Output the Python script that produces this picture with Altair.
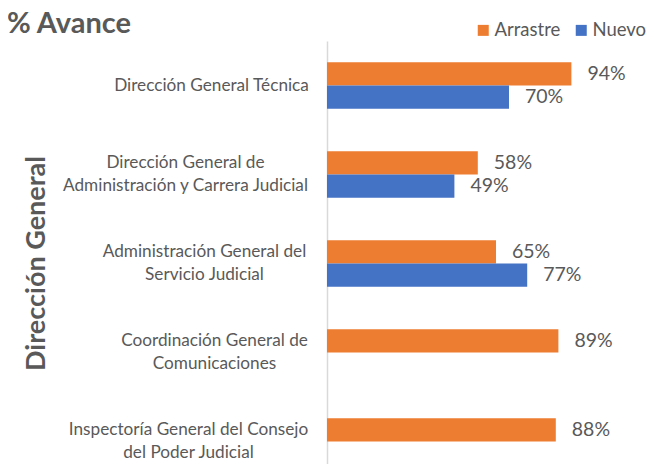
import altair as alt
import pandas as pd

categories = [
    "Dirección General Técnica",
    "Dirección General de\nAdministración y Carrera Judicial",
    "Administración General del\nServicio Judicial",
    "Coordinación General de\nComunicaciones",
    "Inspectoría General del Consejo\ndel Poder Judicial",
]
series = ["Arrastre", "Nuevo"]
arrastre = [0.94, 0.58, 0.65, 0.89, 0.88]
nuevo = [0.70, 0.49, 0.77, None, None]
colors = ["#ED7D31", "#4472C4"]

rows = []
for c, a, n in zip(categories, arrastre, nuevo):
    rows.append({"cat": c, "serie": "Arrastre", "val": a})
    if n is not None:
        rows.append({"cat": c, "serie": "Nuevo", "val": n})
df = pd.DataFrame(rows)

FONT = "Lato"
GRAY = "#595959"
LEFT = 319

pad_cond = [
    {"test": "indexof(datum.value, 'Carrera') >= 0", "value": 142},
    {"test": "indexof(datum.value, 'Servicio') >= 0", "value": 123},
    {"test": "indexof(datum.value, 'Comunicaciones') >= 0", "value": 113},
    {"test": "indexof(datum.value, 'Inspector') >= 0", "value": 139},
]

y_enc = alt.Y(
    "cat:N",
    sort=categories,
    scale=alt.Scale(paddingInner=0.48, paddingOuter=0.24),
    axis=alt.Axis(
        title="Dirección General",
        titleFont=FONT,
        titleFontSize=27,
        titleFontWeight="bold",
        titleColor=GRAY,
        titleAngle=-90,
        titleX=-291,
        titleY=222,
        titleAlign="center",
        titleBaseline="middle",
        labelExpr="split(datum.label, '\\n')",
        labelFont=FONT,
        labelFontSize=17.2,
        labelColor=GRAY,
        labelLineHeight=23,
        labelAlign="center",
        labelPadding={"condition": pad_cond, "value": 116},
        labelOffset={
            "condition": {"test": "indexof(datum.value, '\\n') >= 0", "value": -11.5},
            "value": 0,
        },
        labelLimit=400,
        ticks=False,
        domainColor="#D9D9D9",
        domainWidth=1.5,
    ),
)
yoff = alt.YOffset("serie:N", sort=series, scale=alt.Scale(domain=series))

base = alt.Chart(df).encode(y=y_enc, yOffset=yoff)

bars = base.mark_bar().encode(
    x=alt.X("val:Q", scale=alt.Scale(domain=[0, 1]), axis=None),
    color=alt.Color(
        "serie:N",
        scale=alt.Scale(domain=series, range=colors),
        legend=alt.Legend(
            title=None,
            orient="none",
            legendX=147,
            legendY=-20,
            direction="horizontal",
            symbolType="square",
            symbolSize=121,
            symbolStrokeWidth=0,
            labelFont=FONT,
            labelFontSize=18.5,
            labelColor=GRAY,
            columnPadding=11,
            labelOffset=2,
        ),
    ),
)

labels = base.mark_text(
    align="left", baseline="middle", dx=16, font=FONT, fontSize=19.5, color=GRAY
).encode(
    x="val:Q",
    text=alt.Text("val:Q", format=".0%"),
)

chart = (
    alt.layer(bars, labels)
    .properties(
        width=260,
        height=445,
        autosize=alt.AutoSizeParams(type="none"),
        padding={"left": LEFT, "top": 33, "right": 59, "bottom": -22},
        title=alt.TitleParams(
            "% Avance",
            anchor="start",
            frame="group",
            dx=-LEFT - 1,
            dy=26,
            offset=8,
            font=FONT,
            fontSize=29,
            fontWeight="bold",
            color=GRAY,
        ),
    )
    .configure_view(stroke=None)
)

chart.save("out.html", embed_options={"renderer": "svg", "actions": False})
